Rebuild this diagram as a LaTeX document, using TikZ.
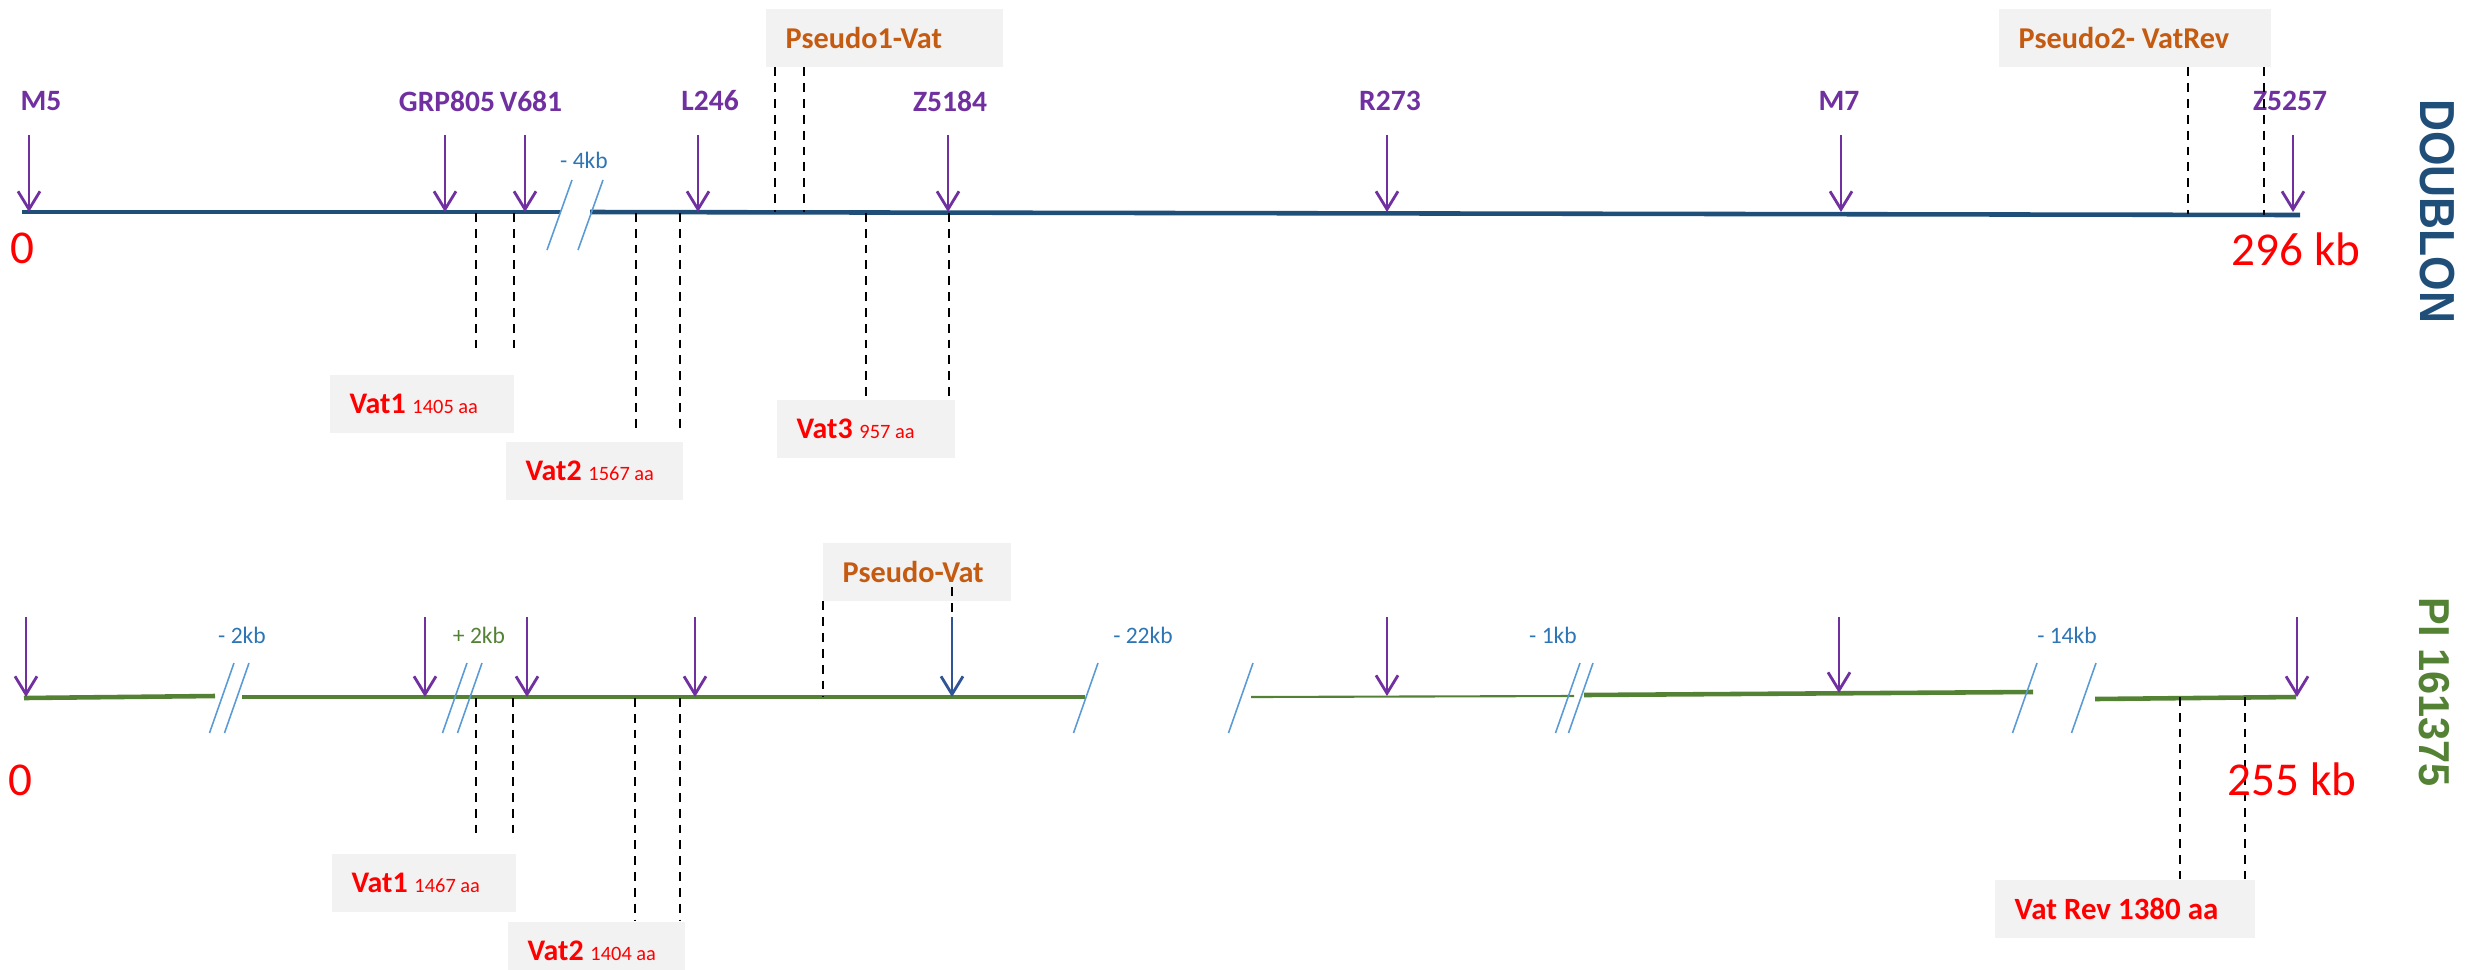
\documentclass[tikz,border=0pt]{standalone}
\usepackage{fontspec}
\setmainfont{Carlito}
\newfontfamily\stripfont{Liberation Sans}
\usetikzlibrary{arrows.meta}

\definecolor{cutpurple}{HTML}{7030A0}
\definecolor{doublonblue}{HTML}{1F4E79}
\definecolor{pigreen}{HTML}{548235}
\definecolor{pseudoorange}{HTML}{C55A11}
\definecolor{gapblue}{HTML}{2E75B6}
\definecolor{slashblue}{HTML}{5B9BD5}
\definecolor{boxgray}{HTML}{F2F2F2}
\definecolor{arrowblue}{HTML}{2F5597}

\tikzset{
  cutarrow/.style={draw=cutpurple, line width=0.8pt, -{Straight Barb[length=1.8mm,width=2.2mm]}},
  cutlabel/.style={text=cutpurple, font=\bfseries\fontsize{8.4}{10}\selectfont, inner sep=0pt},
  genebox/.style={fill=boxgray, anchor=north west, inner xsep=0.2cm, inner ysep=0pt, minimum height=0.58cm, align=flush left, text=red},
  pseudobox/.style={genebox, text=pseudoorange, font=\bfseries\fontsize{8.6}{10}\selectfont},
  guide/.style={draw=black, line width=0.5pt, dash pattern=on 2.5pt off 2pt},
  gapslash/.style={draw=slashblue, line width=0.45pt},
  gaplabel/.style={text=gapblue, font=\fontsize{6.7}{8}\selectfont, inner sep=0pt},
  sizelabel/.style={text=red, font=\fontsize{13.4}{15}\selectfont, inner sep=0pt},
  doublonline/.style={draw=doublonblue, line width=1.3pt},
  piline/.style={draw=pigreen, line width=1.3pt},
  striplabel/.style={font=\stripfont\bfseries, rotate=-90, inner sep=0pt},
}
\newcommand{\vatname}[2]{\mbox{{\bfseries\fontsize{8.5}{10}\selectfont #1\ }{\fontsize{5.8}{7}\selectfont #2}}}

\begin{document}
\begin{tikzpicture}[x=0.01cm, y=-0.01cm]
    \useasboundingbox (0,0) rectangle (2478,969);

    % DOUBLON
    \coordinate (d0) at (22,212);
    \coordinate (d1) at (561,212);
    \coordinate (d2) at (590,212);
    \coordinate (d3) at (2300,215);
    \draw[doublonline] (d0) -- (d1);
    \draw[doublonline] (d2) -- (d3);
    \foreach \x in {572,603} \draw[gapslash] (\x,180) -- ++(-25,70);
    \node[gaplabel] (gap4) at (584,160) {- 4kb};

    \foreach \x [count=\i] in {29,445,525,698,948,1387,1841,2293} {
        \coordinate (dt\i) at (\x,135);
        \coordinate (dh\i) at (\x,212);
        \draw[cutarrow] (dt\i) -- (dh\i);
    }
    \node[cutlabel] (m5) at (41,101) {M5};
    \node[cutlabel] (grp805) at (447,101) {GRP805};
    \node[cutlabel] (v681) at (531,101) {V681};
    \node[cutlabel] (l246) at (710,101) {L246};
    \node[cutlabel] (z5184) at (950,101) {Z5184};
    \node[cutlabel] (r273) at (1390,101) {R273};
    \node[cutlabel] (m7) at (1839,101) {M7};
    \node[cutlabel] (z5257) at (2290,101) {Z5257};

    \node[pseudobox, text width=1.97cm] (pseudo1) at (765,8) {Pseudo1-Vat};
    \node[pseudobox, text width=2.32cm] (pseudo2) at (1998,8) {Pseudo2- VatRev};
    \coordinate (p1a) at (775,212);
    \coordinate (p1b) at (804,212);
    \coordinate (p2a) at (2188,214);
    \coordinate (p2b) at (2264,215);
    \draw[guide] (pseudo1.south -| p1a) -- (p1a);
    \draw[guide] (pseudo1.south -| p1b) -- (p1b);
    \draw[guide] (pseudo2.south -| p2a) -- (p2a);
    \draw[guide] (pseudo2.south -| p2b) -- (p2b);

    \node[genebox, text width=1.44cm] (vat1d) at (329,374) {\vatname{Vat1}{1405 aa}};
    \node[genebox, text width=1.37cm] (vat2d) at (505,441) {\vatname{Vat2}{1567 aa}};
    \node[genebox, text width=1.38cm] (vat3d) at (776,399) {\vatname{Vat3}{957 aa}};
    \coordinate (v1a) at (476,213);
    \coordinate (v1b) at (514,213);
    \coordinate (v2a) at (636,213);
    \coordinate (v2b) at (680,213);
    \coordinate (v3a) at (866,213);
    \coordinate (v3b) at (949,213);
    \draw[guide] (v1a) -- ([yshift=0.25cm]vat1d.north -| v1a);
    \draw[guide] (v1b) -- ([yshift=0.25cm]vat1d.north -| v1b);
    \draw[guide] (v2a) -- ([yshift=0.08cm]vat2d.north -| v2a);
    \draw[guide] (v2b) -- ([yshift=0.08cm]vat2d.north -| v2b);
    \draw[guide] (v3a) -- (vat3d.north -| v3a);
    \draw[guide] (v3b) -- (vat3d.north -| v3b);

    \node[sizelabel] (zerod) at (22,248) {0};
    \node[sizelabel] (endd) at (2296,249) {296 kb};
    \node[striplabel, text=doublonblue] (doublon) at (2437,211) {\fontsize{14}{16}\selectfont\scalebox{0.9}[1]{DOUBLON}};

    % PI 161375
    \coordinate (g0) at (24,698);
    \coordinate (g1) at (215,696);
    \coordinate (g2) at (242,697);
    \coordinate (g3) at (1085,697);
    \coordinate (g4) at (1251,697);
    \coordinate (g5) at (1574,696);
    \coordinate (g6) at (1584,695);
    \coordinate (g7) at (2033,692);
    \coordinate (g8) at (2095,699);
    \coordinate (g9) at (2296,697);
    \draw[piline] (g0) -- (g1);
    \draw[piline] (g2) -- (g3);
    \draw[draw=pigreen, line width=0.6pt] (g4) -- (g5);
    \draw[piline] (g6) -- (g7);
    \draw[piline] (g8) -- (g9);
    \foreach \x in {234,249,467,482,1098,1253,1580,1593,2037,2096} \draw[gapslash] (\x,663) -- ++(-24.5,70);
    \node[gaplabel] (gap2) at (242,635) {- 2kb};
    \node[gaplabel, text=pigreen] (gapplus2) at (479,635) {+ 2kb};
    \node[gaplabel] (gap22) at (1143,635) {- 22kb};
    \node[gaplabel] (gap1) at (1553,635) {- 1kb};
    \node[gaplabel] (gap14) at (2067,635) {- 14kb};

    \foreach \x/\y [count=\i] in {26/697,425/697,527/697,695/697,1387/696,1839/693,2297/697} {
        \coordinate (pt\i) at (\x,617);
        \coordinate (ph\i) at (\x,\y);
        \draw[cutarrow] (pt\i) -- (ph\i);
    }
    \coordinate (bt) at (952,617);
    \coordinate (bh) at (952,697);
    \draw[cutarrow, draw=arrowblue] (bt) -- (bh);

    \node[pseudobox, text width=1.48cm] (pseudo) at (822,542) {Pseudo-Vat};
    \coordinate (pa) at (823,697);
    \draw[guide] (pseudo.south -| pa) -- (pa);
    \draw[guide] ([yshift=0.14cm]pseudo.south -| bt) -- (bt);

    \node[genebox, text width=1.44cm] (vat1p) at (331,853) {\vatname{Vat1}{1467 aa}};
    \node[genebox, text width=1.37cm] (vat2p) at (507,921) {\vatname{Vat2}{1404 aa}};
    \node[genebox, text width=2.20cm, font=\bfseries\fontsize{8.8}{10}\selectfont] (vatrev) at (1994,879) {Vat Rev 1380 aa};
    \coordinate (w1a) at (476,698);
    \coordinate (w1b) at (513,698);
    \coordinate (w2a) at (635,698);
    \coordinate (w2b) at (680,698);
    \coordinate (wra) at (2180,697);
    \coordinate (wrb) at (2245,697);
    \draw[guide] (w1a) -- ([yshift=0.2cm]vat1p.north -| w1a);
    \draw[guide] (w1b) -- ([yshift=0.2cm]vat1p.north -| w1b);
    \draw[guide] (w2a) -- (vat2p.north -| w2a);
    \draw[guide] (w2b) -- (vat2p.north -| w2b);
    \draw[guide] (wra) -- (vatrev.north -| wra);
    \draw[guide] (wrb) -- (vatrev.north -| wrb);

    \node[sizelabel] (zerop) at (20,780) {0};
    \node[sizelabel] (endp) at (2292,779) {255 kb};
    \node[striplabel, text=pigreen] (pistrain) at (2434,692) {\fontsize{12.3}{14}\selectfont\scalebox{0.96}[1]{PI 161375}};
\end{tikzpicture}
\end{document}
